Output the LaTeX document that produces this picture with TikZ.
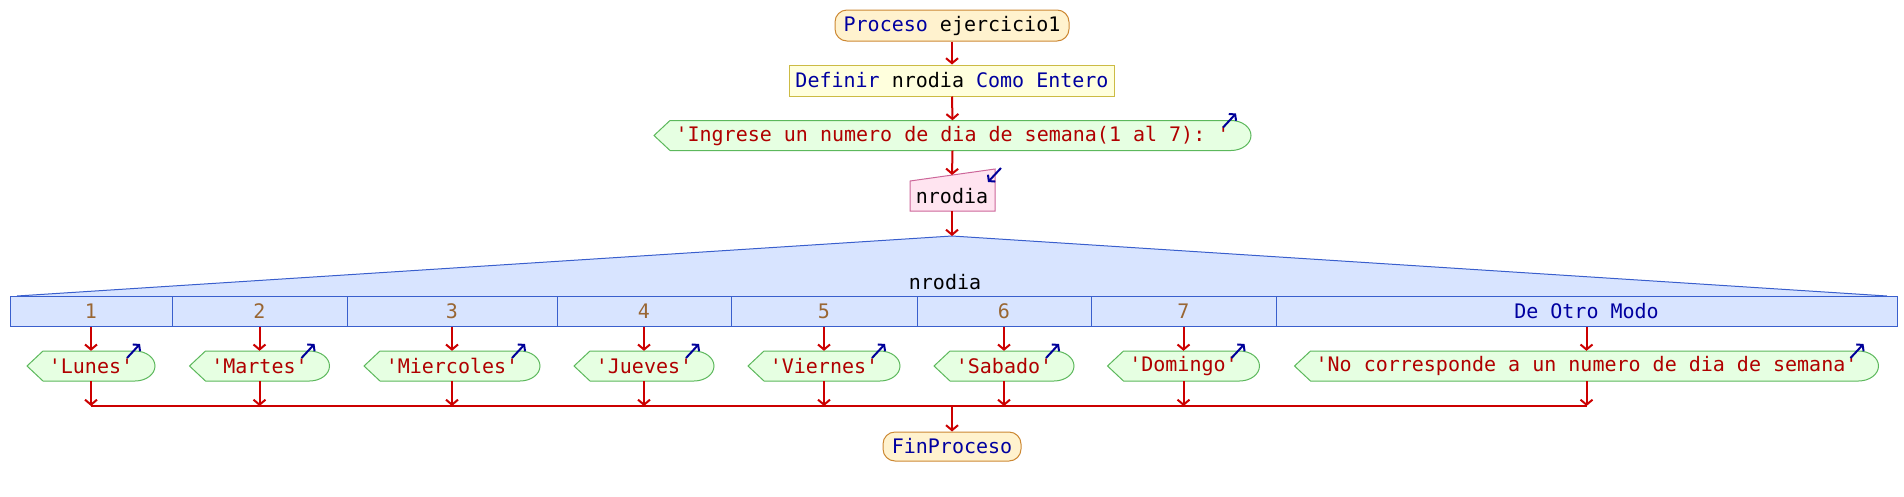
\documentclass[tikz,border=0pt]{standalone}
\usepackage{fontspec}
\setmonofont{DejaVu Sans Mono}
\usetikzlibrary{arrows.meta,calc}

\definecolor{kw}{RGB}{0,0,160}
\definecolor{strc}{RGB}{176,0,0}
\definecolor{numc}{RGB}{153,102,51}
\definecolor{flowred}{RGB}{204,0,0}
\definecolor{iconblue}{RGB}{0,0,153}
\definecolor{procfill}{RGB}{255,242,206}
\definecolor{procdraw}{RGB}{204,136,51}
\definecolor{deffill}{RGB}{255,255,221}
\definecolor{defdraw}{RGB}{204,187,68}
\definecolor{outfill}{RGB}{230,255,226}
\definecolor{outdraw}{RGB}{92,184,92}
\definecolor{infill}{RGB}{255,228,240}
\definecolor{indraw}{RGB}{204,102,153}
\definecolor{swfill}{RGB}{216,228,255}
\definecolor{swdraw}{RGB}{58,95,205}

\tikzset{
  procbox/.style={draw=procdraw, fill=procfill, line width=1pt, rounded corners=12pt, minimum height=31},
  defbox/.style={draw=defdraw, fill=deffill, line width=1pt, minimum height=31},
  outshape/.style={draw=outdraw, fill=outfill, line width=1pt},
  outtext/.style={text=strc, minimum height=30},
  inshape/.style={draw=indraw, fill=infill, line width=1pt},
  swshape/.style={draw=swdraw, line width=1pt},
  swcell/.style={draw=swdraw, fill=swfill, line width=1pt, minimum height=30},
  flowarrow/.style={draw=flowred, line width=2pt, -{Straight Barb[length=5pt,width=12pt]}},
  mergeline/.style={draw=flowred, line width=2pt},
  iconarrow/.style={draw=iconblue, line width=2pt, -{Straight Barb[length=4pt,width=10pt]}},
}

\newcommand\outbox[5]{%
  \pgfmathsetmacro\myL{#2-#4/2}%
  \pgfmathsetmacro\myR{#2+#4/2}%
  \pgfmathsetmacro\myT{#3-15}%
  \pgfmathsetmacro\myB{#3+15}%
  \draw[outshape] (\myL,#3) -- (\myL+16,\myT) -- (\myR-20,\myT)
    .. controls (\myR-9,\myT) and (\myR,#3-8.3) .. (\myR,#3)
    .. controls (\myR,#3+8.3) and (\myR-9,\myB) .. (\myR-20,\myB)
    -- (\myL+16,\myB) -- cycle;
  \node[outtext, minimum width=#4] (#1) at (#2,#3) {#5};
  \draw[iconarrow] (\myR-28,\myT+7) -- (\myR-15,\myT-7);
}

\begin{document}
\begin{tikzpicture}[x=1pt,y=-1pt,
  every node/.style={font=\ttfamily\fontsize{20}{24}\selectfont, inner sep=0pt}]
\useasboundingbox (0,0) rectangle (1904,496);

% start
\node[procbox, minimum width=234] (proc) at (952,25.5) {{\color{kw}Proceso} ejercicio1};
\node[defbox, minimum width=325] (def) at (952,80.5) {{\color{kw}Definir} nrodia {\color{kw}Como Entero}};

% output prompt
\outbox{ing}{952.5}{135.5}{597}{'Ingrese un numero de dia de semana(1 al 7): '}

% input
\draw[inshape] (910,181) -- (995,169) -- (995,211) -- (910,211) -- cycle;
\node[minimum width=85, minimum height=30] (in) at (952,196) {nrodia};
\coordinate (intop) at (952,175);
\draw[iconarrow] (1001,168) -- (988,182);

% switch
\fill[swfill] (17,296) -- (952,236) -- (1887,296) -- cycle;
\draw[swshape] (17,296) -- (952,236) -- (1887,296);
\coordinate (swtop) at (952,236);
\node (sw) at (945,282) {nrodia};

\node[swcell, minimum width=162] (c1) at (91,311) {\color{numc}1};
\node[swcell, minimum width=175] (c2) at (259.5,311) {\color{numc}2};
\node[swcell, minimum width=210] (c3) at (452,311) {\color{numc}3};
\node[swcell, minimum width=174] (c4) at (644,311) {\color{numc}4};
\node[swcell, minimum width=186] (c5) at (824,311) {\color{numc}5};
\node[swcell, minimum width=174] (c6) at (1004,311) {\color{numc}6};
\node[swcell, minimum width=185] (c7) at (1183.5,311) {\color{numc}7};
\node[swcell, minimum width=621] (c8) at (1586.5,311) {\color{kw}De Otro Modo};

% case outputs
\outbox{o1}{91}{366}{128}{'Lunes'}
\outbox{o2}{259.5}{366}{140}{'Martes'}
\outbox{o3}{452}{366}{176}{'Miercoles'}
\outbox{o4}{644}{366}{140}{'Jueves'}
\outbox{o5}{824}{366}{152}{'Viernes'}
\outbox{o6}{1004}{366}{140}{'Sabado'}
\outbox{o7}{1183.5}{366}{152}{'Domingo'}
\outbox{o8}{1586.5}{366}{584}{'No corresponde a un numero de dia de semana'}

% merge coordinates
\coordinate (m1) at (91,406);
\coordinate (m2) at (259.5,406);
\coordinate (m3) at (452,406);
\coordinate (m4) at (644,406);
\coordinate (m5) at (824,406);
\coordinate (m6) at (1004,406);
\coordinate (m7) at (1183.5,406);
\coordinate (m8) at (1586.5,406);
\coordinate (mc) at (952,406);

% end
\node[procbox, minimum width=138, minimum height=29] (fin) at (952,446.5) {\color{kw}FinProceso};

% connectors
\draw[flowarrow] (proc.south) -- (def.north);
\draw[flowarrow] (def.south) -- (ing.north);
\draw[flowarrow] (ing.south) -- (intop);
\draw[flowarrow] (in.south) -- (swtop);
\foreach \i in {1,...,8} {
  \draw[flowarrow] (c\i.south) -- (o\i.north);
  \draw[flowarrow] (o\i.south) -- (m\i);
}
\draw[mergeline] (m1) -- (m8);
\draw[flowarrow] (mc) -- (fin.north);
\end{tikzpicture}
\end{document}
